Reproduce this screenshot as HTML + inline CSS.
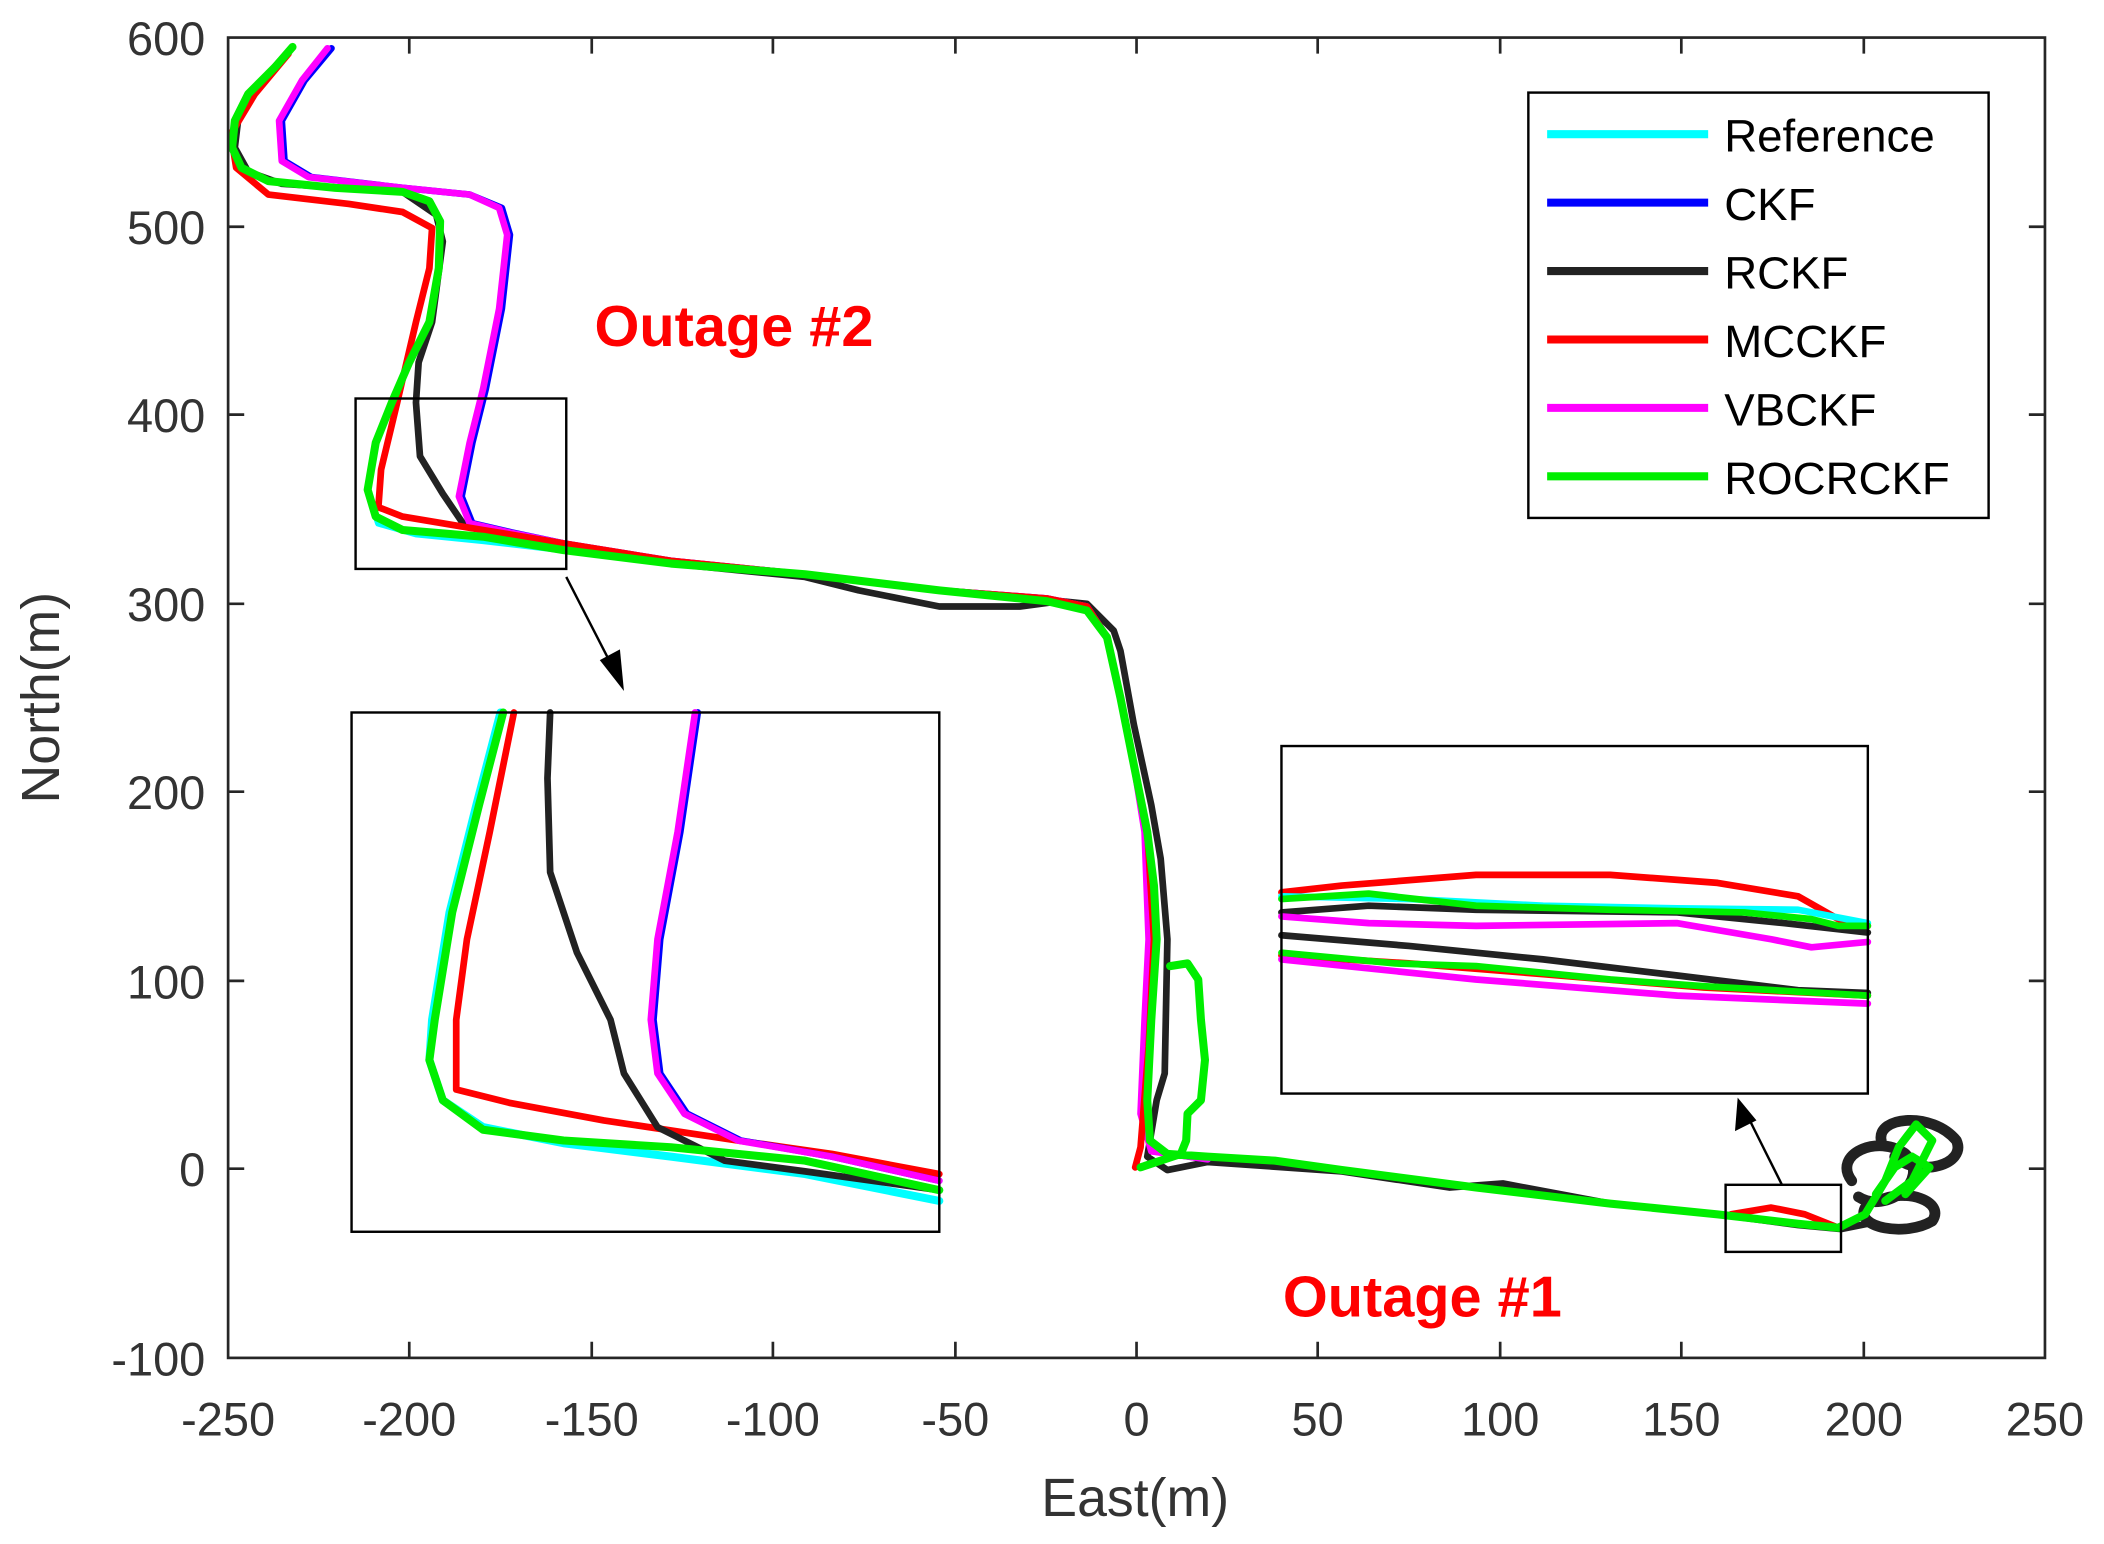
<!DOCTYPE html>
<html><head><meta charset="utf-8"><style>html,body{margin:0;padding:0;background:#fff}svg{display:block}</style></head>
<body>
<svg width="2104" height="1544" viewBox="0 0 1568 1150.7" preserveAspectRatio="none" xmlns="http://www.w3.org/2000/svg" font-family="Liberation Sans, sans-serif">
<rect width="1568" height="1151" fill="#fff"/>
<g fill="none" stroke-linejoin="round" stroke-linecap="round">
<!-- main trajectories -->
<path stroke="#222" stroke-width="8" d="M1380,880 C1365,860 1400,845 1420,860 C1440,880 1405,905 1385,892 M1402,850 C1398,832 1440,828 1458,850 C1466,868 1430,878 1412,862 M1390,900 C1382,915 1420,922 1440,910 C1450,895 1420,885 1400,895"/>
<path stroke="#222" stroke-width="5" d="M218,35 L200,55 L178,85 L175,110 L185,128 L210,137 L300,143 L325,160 L330,180 L322,240 L312,270 L310,300 L313,340 L330,368 L345,390 L420,408 L500,420 L600,430 L640,440 L700,452 L760,452 L790,448 L810,450 L830,470 L835,485 L845,540 L858,600 L865,640 L870,700 L868,800 L862,820 L855,862 L870,872 L900,866 L1000,873 L1080,885 L1120,882 L1200,897 L1280,905 L1340,913 L1372,916 L1392,912"/>
<path stroke="#0000ff" stroke-width="5" d="M247,36 L227,60 L210,90 L212,120 L232,132 L300,140 L350,145 L374,155 L380,175 L374,230 L362,290 L352,330 L344,370 L352,390 L382,397 L420,405 L500,418 L600,428 L700,440 L780,446 L810,452 L825,475 L835,520 L845,570 L855,620 L858,700 L855,760 L852,830 L860,858 L900,864"/>
<path stroke="#ff00ff" stroke-width="5" d="M244,36 L225,60 L208,90 L210,120 L230,132 L300,140 L350,145 L372,155 L378,175 L372,230 L360,290 L350,330 L342,370 L350,390 L380,397 L420,405 L500,418 L600,428 L700,440 L780,446 L810,452 L825,475 L835,520 L845,570 L853,620 L856,700 L853,760 L850,830 L858,858 L900,864"/>
<path stroke="#ff0000" stroke-width="5" d="M215,40 L190,70 L172,100 L176,125 L200,145 L260,152 L300,158 L322,170 L320,200 L310,240 L296,300 L284,350 L282,378 L300,385 L360,395 L420,405 L500,418 L600,428 L700,440 L780,446 L810,452 L825,475 L835,520 L845,570 L855,620 L860,700 L856,780 L850,855 L846,870 M1290,905 L1320,900 L1345,905 L1370,915"/>
<path stroke="#00ffff" stroke-width="5" d="M218,35 L205,50 L185,70 L175,90 L173,110 L180,125 L200,135 L250,140 L300,143 L320,150 L328,165 L327,200 L320,240 L305,270 L292,300 L280,330 L274,365 L282,390 L310,398 L360,403 L420,410"/>
<path stroke="#00ee00" stroke-width="6" d="M218,35 L205,50 L185,70 L175,90 L173,110 L180,125 L200,135 L250,140 L300,143 L320,150 L328,165 L327,200 L320,240 L305,270 L292,300 L280,330 L274,365 L280,385 L300,395 L360,400 L420,410 L500,420 L600,428 L700,440 L780,448 L810,455 L825,475 L835,520 L845,570 L855,620 L860,660 L862,700 L858,760 L855,820 L857,850 L870,860 L900,862 L950,865 L1000,872 L1100,885 L1200,897 L1280,905 L1340,912 L1370,915 L1390,905 L1405,880 L1415,855 L1428,838 L1440,850 L1425,880 L1405,895 M1398,890 L1412,870 L1425,862 L1438,870 L1420,890 M872,720 L885,718 L893,730 L895,760 L898,790 L895,820 L885,830 L884,850 L880,860 L850,870"/>
<!-- left inset -->
<path stroke="#00ffff" stroke-width="6" d="M373,531 L355,600 L335,680 L322,760 L320,790 L330,820 L360,840 L420,852 L500,862 L600,875 L700,895"/>
<path stroke="#ff0000" stroke-width="5" d="M383,531 L365,620 L348,700 L340,760 L340,812 L380,822 L450,835 L550,850 L620,860 L700,875"/>
<path stroke="#222" stroke-width="5" d="M410,531 L408,580 L410,650 L430,710 L455,760 L465,800 L490,840 L540,865 L600,873 L700,887"/>
<path stroke="#0000ff" stroke-width="5" d="M520,531 L507,620 L492,700 L487,760 L492,800 L512,830 L552,850 L620,862 L700,880"/>
<path stroke="#ff00ff" stroke-width="5" d="M518,531 L505,620 L490,700 L485,760 L490,800 L510,830 L550,850 L620,862 L700,880"/>
<path stroke="#00ee00" stroke-width="6" d="M375,531 L357,600 L337,680 L324,760 L320,790 L330,820 L360,842 L420,850 L500,855 L600,865 L700,887"/>
<!-- right inset -->
<path stroke="#ff0000" stroke-width="5" d="M955,665 L1000,660 L1100,652 L1200,652 L1280,658 L1340,668 L1370,685 L1392,690 M955,712 L1050,718 L1150,726 L1270,736 L1392,742"/>
<path stroke="#00ffff" stroke-width="5" d="M955,668 L1050,670 L1150,675 L1250,677 L1340,678 L1392,688"/>
<path stroke="#222" stroke-width="5" d="M955,680 L1020,675 L1100,678 L1250,680 L1330,688 L1392,695 M955,697 L1050,705 L1150,715 L1250,727 L1340,738 L1392,740"/>
<path stroke="#ff00ff" stroke-width="5" d="M955,683 L1020,688 L1100,690 L1250,688 L1320,700 L1350,706 L1392,702 M955,715 L1100,730 L1250,742 L1392,748"/>
<path stroke="#00ee00" stroke-width="5" d="M955,670 L1020,666 L1100,675 L1200,678 L1300,680 L1350,685 L1370,690 L1392,690 M955,710 L1040,718 L1100,720 L1200,730 L1270,735 L1392,742"/>
</g>
<!-- boxes -->
<g fill="none" stroke="#000" stroke-width="1.8">
<rect x="262" y="531" width="438" height="387"/>
<rect x="265" y="297" width="157" height="127"/>
<rect x="955" y="556" width="437" height="259"/>
<rect x="1286" y="883" width="86" height="50"/>
<line x1="422" y1="430" x2="458" y2="500"/>
<line x1="1328" y1="883" x2="1303" y2="833"/>
</g>
<polygon points="465,515 447,492 462,484" fill="#000"/>
<polygon points="1295,818 1293,843 1309,835" fill="#000"/>
<!-- axes -->
<g stroke="#262626" stroke-width="2" fill="none">
<rect x="170" y="28" width="1354" height="984"/>
<path d="M305,1012v-12M441,1012v-12M576,1012v-12M712,1012v-12M847,1012v-12M982,1012v-12M1118,1012v-12M1253,1012v-12M1389,1012v-12M305,28v12M441,28v12M576,28v12M712,28v12M847,28v12M982,28v12M1118,28v12M1253,28v12M1389,28v12M170,871h12M170,731h12M170,590h12M170,450h12M170,309h12M170,169h12M1524,871h-12M1524,731h-12M1524,590h-12M1524,450h-12M1524,309h-12M1524,169h-12"/>
</g>
<g fill="#333" font-size="35" text-anchor="middle">
<text x="170" y="1070">-250</text><text x="305" y="1070">-200</text><text x="441" y="1070">-150</text><text x="576" y="1070">-100</text><text x="712" y="1070">-50</text><text x="847" y="1070">0</text><text x="982" y="1070">50</text><text x="1118" y="1070">100</text><text x="1253" y="1070">150</text><text x="1389" y="1070">200</text><text x="1524" y="1070">250</text>
</g>
<g fill="#333" font-size="35" text-anchor="end">
<text x="153" y="1025">-100</text><text x="153" y="884">0</text><text x="153" y="744">100</text><text x="153" y="603">200</text><text x="153" y="463">300</text><text x="153" y="322">400</text><text x="153" y="182">500</text><text x="153" y="41">600</text>
</g>
<text x="846" y="1130" font-size="40" fill="#333" text-anchor="middle">East(m)</text>
<text transform="translate(44,520) rotate(-90)" font-size="40" fill="#333" text-anchor="middle">North(m)</text>
<text x="547" y="258" font-size="43" font-weight="bold" fill="#ff0000" text-anchor="middle">Outage #2</text>
<text x="1060" y="981" font-size="43" font-weight="bold" fill="#ff0000" text-anchor="middle">Outage #1</text>
<!-- legend -->
<rect x="1139" y="69" width="343" height="317" fill="#fff" stroke="#000" stroke-width="1.8"/>
<g stroke-width="6">
<line x1="1153" y1="100" x2="1273" y2="100" stroke="#00ffff"/>
<line x1="1153" y1="151" x2="1273" y2="151" stroke="#0000ff"/>
<line x1="1153" y1="202" x2="1273" y2="202" stroke="#222"/>
<line x1="1153" y1="253" x2="1273" y2="253" stroke="#ff0000"/>
<line x1="1153" y1="304" x2="1273" y2="304" stroke="#ff00ff"/>
<line x1="1153" y1="355" x2="1273" y2="355" stroke="#00ee00"/>
</g>
<g font-size="34" fill="#000" textLength="0">
<text x="1285" y="113">Reference</text><text x="1285" y="164">CKF</text><text x="1285" y="215">RCKF</text><text x="1285" y="266">MCCKF</text><text x="1285" y="317">VBCKF</text><text x="1285" y="368">ROCRCKF</text>
</g>
</svg>
</body></html>
